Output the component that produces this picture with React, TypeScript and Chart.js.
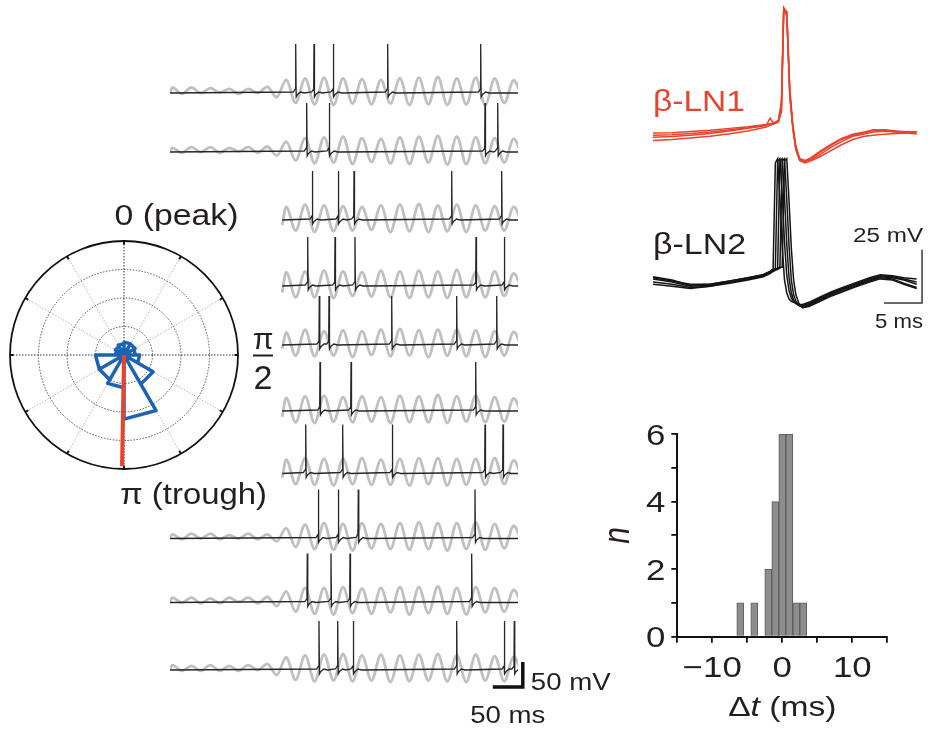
import { useEffect, useRef } from "react";
import { Chart, registerables } from "chart.js";

Chart.register(...registerables);

// ---------------- Spike phase relative to the LFP cycle (0 = peak, π = trough) ----------------
const PHASE_BIN_START_DEG = [0, 30, 60, 90, 120, 150, 180, 210, 240, 270, 300, 330];
const PHASE_BIN_WIDTH_DEG = 30;
const PHASE_BIN_R = [0.45, 0.45, 0.4, 0.55, 1.18, 2.25, 1.15, 1.0, 1.0, 0.3, 0.35, 0.4];
const MEAN_PHASE_DEG = 181;
const MEAN_VECTOR_R = 3.9;
const POLAR_RINGS = [1, 2, 3, 4];
const POLAR_SPOKES_DEG = [0, 30, 60, 90, 120, 150, 180, 210, 240, 270, 300, 330];

// ---------------- Ten trials: β-LN membrane potential (black) over the LFP (grey) ----------------
const TRIAL_START_MS = [0, 0, 187, 187, 187, 187, 187, 0, 0, 0];
const TRIAL_END_MS = 580;
const SPIKE_TIMES_MS = [
  [209.5, 240, 272.2, 362.8, 517.8],
  [227.8, 265.5, 525, 546.2],
  [237.2, 280.5, 306.7, 469.5, 552.8],
  [229.5, 275, 308.3, 510, 557.2],
  [248.8, 265, 369.5, 477.8, 544.5],
  [250, 301.7, 509.5],
  [226.2, 287.8, 370.5, 525, 555],
  [247.2, 280.5, 313.8, 508.3],
  [228.8, 268.3, 300, 502.8],
  [248.3, 279.5, 305.5, 477.8, 557.2, 573.8],
];
// single spike waveform: [ms from spike peak, mV from rest]
const SPIKE_SHAPE = [
  [-4, 2],
  [-0.5, 8],
  [0, 98],
  [0.8, -8],
  [3, -3],
  [8, 2],
  [14, 0],
];
// LFP (arbitrary units) sampled at its successive extrema (half-cycle steps)
const LFP_T0_MS = -11.8;
const LFP_HALF_CYCLE_MS = 15.8;
const LFP_FIRST_SAMPLE = [0, 0, 12, 12, 12, 12, 12, 0, 0, 0];
const LFP = [
  [-2, 5, -4, 5, -3, 4, -2, 3, -4, 3, -3, 6, -9, 16, -17, 18, -19, 19, -20, 18, -18, 17, -19, 16, -18, 18, -20, 19, -19, 20, -20, 18, -19, 19, -20, 18, -17, 15, -13],
  [-2, 3, -4, 4, -3, 4, -4, 3, -2, 4, -4, 5, -8, 12, -15, 17, -19, 18, -18, 19, -20, 17, -17, 16, -19, 18, -20, 19, -18, 20, -21, 19, -20, 18, -19, 17, -18, 16, -14],
  [-10, 16, -18, 19, -20, 18, -19, 17, -18, 16, -17, 18, -20, 19, -19, 20, -20, 18, -19, 19, -20, 18, -18, 17, -18, 16, -14],
  [-12, 17, -19, 18, -19, 19, -20, 18, -17, 17, -18, 19, -19, 18, -20, 19, -19, 18, -20, 20, -19, 17, -19, 18, -17, 15, -12],
  [-8, 15, -18, 19, -19, 17, -18, 18, -20, 17, -17, 19, -19, 20, -18, 18, -20, 19, -18, 19, -19, 18, -20, 17, -18, 16, -13],
  [-11, 16, -19, 18, -20, 19, -18, 17, -19, 18, -18, 17, -20, 19, -19, 18, -19, 20, -20, 18, -18, 19, -19, 17, -18, 15, -13],
  [-9, 17, -18, 19, -19, 18, -20, 18, -18, 19, -19, 17, -19, 18, -20, 19, -18, 19, -20, 18, -19, 18, -19, 19, -18, 16, -14],
  [-2, 3, -4, 4, -3, 4, -4, 2, -3, 4, -4, 3, -7, 12, -15, 17, -18, 19, -19, 18, -20, 19, -17, 18, -18, 19, -19, 20, -18, 19, -20, 19, -18, 20, -19, 18, -17, 15, -13],
  [-2, 4, -3, 4, -4, 3, -4, 4, -2, 4, -4, 5, -8, 13, -16, 18, -19, 18, -20, 19, -18, 17, -19, 18, -17, 19, -20, 19, -18, 20, -19, 18, -20, 19, -17, 18, -16, 15, -12],
  [-2, 4, -4, 3, -4, 4, -4, 3, -4, 4, -3, 6, -10, 15, -17, 18, -19, 19, -18, 20, -19, 18, -18, 19, -20, 18, -19, 19, -18, 20, -19, 18, -20, 19, -18, 17, -19, 16, -14],
];

// ---------------- Overlaid spike waveforms of the two β-LNs ----------------
const LN1_T_MS = [0, 2.5, 4.9, 7.5, 10.1, 12.5, 14.9, 15.4, 15.9, 16.5, 16.9, 17.2, 17.6, 18.0, 18.4, 18.8, 19.3, 20.0, 20.8, 22.0, 23.3, 24.8, 26.3, 27.8, 29.0, 30.5, 32.0, 33.5, 34.7];
const LN1_MV = [
  [-1, -0.8, -0.3, 0.3, 1.2, 2.0, 3.0, 3.4, 3.8, 5.0, 12, 57, 55, 18, 2, -8, -13.5, -14.5, -13.5, -11, -8, -5, -2.5, -1.5, -0.5, -0.2, -0.5, -0.3, -0.5],
  [-3, -2.6, -2.0, -1.2, 0, 1.2, 2.5, 6.0, 3.5, 4.5, 10, 58, 56, 20, 3, -7, -13, -14, -13, -10, -7, -4, -2, -1, 0.2, 0.5, 0, -0.5, -0.5],
  [-4.5, -4, -3.3, -2.5, -1.3, 0, 1.8, 2.6, 3.2, 4.2, 9, 56, 56, 17, 1, -9, -14, -15, -14, -12, -9.5, -6.5, -4, -2.5, -2, -1.5, -1.2, -1, -0.8],
  [-2, -1.8, -1.2, -0.5, 0.5, 1.5, 2.8, 3.2, 3.6, 4.8, 14, 57.5, 54, 16, 1.5, -8.5, -13, -14, -12.5, -9.5, -6.5, -3.5, -1.5, -0.5, 0.5, 0.3, -0.5, -1, -1.5],
];
const LN2_T_MS = [0, 2.5, 4.9, 7.5, 10.1, 12.5, 14.5, 15.4, 15.8, 16.1, 16.4, 16.7, 17.0, 17.3, 17.6, 17.9, 18.2, 18.5, 18.8, 19.2, 19.7, 20.5, 22.0, 23.5, 24.6, 26.5, 28.5, 29.9, 31.5, 33.0, 34.7];
const LN2_MV = [
  [1.5, 0, -2.5, -2, -0.5, 1, 2.5, 4, 5, 55, 57, 38, 16, 0, -6, -9, -10, -10.5, -11, -11.5, -11.5, -10.5, -8, -5.5, -4, -1.5, 1, 2.5, 2, 1, 0.5],
  [-1, -2, -3.5, -3, -1, 0.5, 2, 3.5, 4.5, 5.5, 56, 57, 40, 18, 2, -5, -8.5, -10, -11, -12, -12, -11, -8.5, -6, -4.5, -2, 0.5, 2, 1.5, 0.5, -1],
  [0.5, -1, -3, -2.5, -1, 0.5, 2, 3.5, 4.5, 5, 5.5, 56, 57, 39, 17, 1, -6, -9.5, -11, -12, -12.5, -11.5, -9, -6.5, -5, -2.5, 0, 1.5, 1, 0, -2],
  [-2, -3, -4, -3, -1.5, 0, 1.5, 3, 4, 4.5, 5, 5.5, 56, 57, 38, 16, 0, -7, -10, -12, -13, -12, -9.5, -7, -5.5, -3, -0.5, 1, 0.5, -1.5, -3.5],
  [1, -0.5, -2, -2, -0.5, 1, 2.5, 4, 5, 5, 5.5, 6, 6, 56, 57, 37, 15, 0, -7, -11, -13, -12.5, -10, -7.5, -6, -3.5, -1, 0.5, 0, -2, -4],
];

// ---------------- Spike-time differences between β-LN1 and β-LN2 ----------------
const DT_BIN_MS = [-6, -4, -2, -1, 0, 1, 2, 3];
const DT_COUNT = [1, 1, 2, 4, 6, 6, 1, 1];
const DT_TICK_LABELS = [-10, 0, 10];
const N_TICK_LABELS = [0, 2, 4, 6];

// ---------------- styling / layout ----------------
const RED = "#e8432d";
const BLUE = "#1c63b4";
const INK = "#231f20";
const LFP_GREY = "#c0c0c0";
const FONT = '"Liberation Sans", Arial, Helvetica, sans-serif';
const TEXT_STRETCH = 1.2;

// stacking of the ten trials (mV offsets, 2 mV per pixel) and LFP display gain
const ROW_OFFSET_MV = [0, -118, -254, -386, -504, -636, -761, -891, -1019, -1154];
const LFP_GAIN = 1.4;
const LFP_SHIFT_MV = 4;
const LN1_OFFSET_MV = 70;

type LabelOpts = {
  align?: "left" | "center" | "right";
  color?: string;
  stretch?: number;
  italic?: boolean;
  width?: number;
};

function drawLabel(ctx: CanvasRenderingContext2D, text: string, x: number, y: number, size: number, opts: LabelOpts = {}) {
  const { align = "left", color = INK, stretch = TEXT_STRETCH, italic = false, width } = opts;
  ctx.save();
  ctx.font = `${italic ? "italic " : ""}${size}px ${FONT}`;
  const natural = ctx.measureText(text).width;
  const sx = width ? width / natural : stretch;
  const w = natural * sx;
  const left = align === "left" ? x : align === "center" ? x - w / 2 : x - w;
  ctx.translate(left, y);
  ctx.scale(sx, 1);
  ctx.fillStyle = color;
  ctx.textAlign = "left";
  ctx.textBaseline = "alphabetic";
  ctx.fillText(text, 0, 0);
  ctx.restore();
  return w;
}

function drawRuns(ctx: CanvasRenderingContext2D, runs: [string, boolean][], cx: number, y: number, size: number) {
  const widths = runs.map(([t, it]) => {
    ctx.save();
    ctx.font = `${it ? "italic " : ""}${size}px ${FONT}`;
    const w = ctx.measureText(t).width * TEXT_STRETCH;
    ctx.restore();
    return w;
  });
  let x = cx - widths.reduce((a, b) => a + b, 0) / 2;
  runs.forEach(([t, it], i) => {
    drawLabel(ctx, t, x, y, size, { italic: it });
    x += widths[i];
  });
}

const baseOptions = {
  animation: false as const,
  responsive: false,
  events: [] as any[],
  plugins: { legend: { display: false }, tooltip: { enabled: false } },
};

// ---------------- polar phase plot ----------------
function makePolar(canvas: HTMLCanvasElement) {
  const rad = (d: number) => (d * Math.PI) / 180;
  const rose: { x: number; y: number }[] = [];
  PHASE_BIN_START_DEG.forEach((deg, k) => {
    const r = PHASE_BIN_R[k];
    const a0 = rad(deg);
    const a1 = rad(deg + PHASE_BIN_WIDTH_DEG);
    rose.push({ x: 0, y: 0 }, { x: r * Math.sin(a0), y: r * Math.cos(a0) }, { x: r * Math.sin(a1), y: r * Math.cos(a1) });
  });
  rose.push({ x: 0, y: 0 });
  const mean = [
    { x: 0, y: 0 },
    { x: MEAN_VECTOR_R * Math.sin(rad(MEAN_PHASE_DEG)), y: MEAN_VECTOR_R * Math.cos(rad(MEAN_PHASE_DEG)) },
  ];

  const grid = {
    id: "polarGrid",
    beforeDatasetsDraw(chart: any) {
      const { ctx } = chart;
      const sx = chart.scales.x;
      const sy = chart.scales.y;
      const cx = sx.getPixelForValue(0);
      const cy = sy.getPixelForValue(0);
      const unit = sx.getPixelForValue(1) - cx;
      const R = POLAR_RINGS[POLAR_RINGS.length - 1] * unit;
      ctx.save();
      ctx.lineWidth = 1;
      ctx.setLineDash([1.5, 1.5]);
      for (const deg of POLAR_SPOKES_DEG) {
        if (deg % 90 === 0) continue;
        const a = rad(deg);
        ctx.strokeStyle = "#b4b4b4";
        ctx.beginPath();
        ctx.moveTo(cx, cy);
        ctx.lineTo(cx + R * Math.sin(a), cy - R * Math.cos(a));
        ctx.stroke();
      }
      ctx.strokeStyle = "#4a4a4a";
      for (const ring of POLAR_RINGS.slice(0, -1)) {
        ctx.beginPath();
        ctx.arc(cx, cy, ring * unit, 0, Math.PI * 2);
        ctx.stroke();
      }
      ctx.strokeStyle = "#2e2e2e";
      ctx.beginPath();
      ctx.moveTo(cx - R, cy);
      ctx.lineTo(cx + R, cy);
      ctx.moveTo(cx, cy - R);
      ctx.lineTo(cx, cy + R);
      ctx.stroke();
      ctx.setLineDash([]);
      ctx.strokeStyle = "#111";
      ctx.lineWidth = 1.8;
      ctx.beginPath();
      ctx.arc(cx, cy, R, 0, Math.PI * 2);
      ctx.stroke();
      ctx.lineWidth = 2;
      for (const deg of POLAR_SPOKES_DEG) {
        const a = rad(deg);
        ctx.beginPath();
        ctx.moveTo(cx + R * Math.sin(a), cy - R * Math.cos(a));
        ctx.lineTo(cx + (R - 3.5) * Math.sin(a), cy - (R - 3.5) * Math.cos(a));
        ctx.stroke();
      }
      ctx.restore();
    },
    afterDraw(chart: any) {
      const { ctx } = chart;
      const cx = chart.scales.x.getPixelForValue(0);
      const cy = chart.scales.y.getPixelForValue(0);
      const R = chart.scales.x.getPixelForValue(POLAR_RINGS[POLAR_RINGS.length - 1]) - cx;
      drawLabel(ctx, "0 (peak)", cx - 9.5, cy - R - 16, 29, { width: 124 });
      drawLabel(ctx, "π (trough)", cx - 4, cy + R + 35, 29, { width: 147 });
      const fx = cx + R + 25;
      drawLabel(ctx, "π", fx, cy - 6, 30, { align: "center", stretch: 1 });
      ctx.save();
      ctx.fillStyle = INK;
      ctx.fillRect(fx - 10, cy - 0.5, 20, 2);
      ctx.restore();
      drawLabel(ctx, "2", fx, cy + 34, 34, { align: "center", stretch: 1 });
    },
  };

  const half = 4.3;
  return new Chart(canvas, {
    type: "scatter",
    data: {
      datasets: [
        { data: mean, showLine: true, borderColor: RED, borderWidth: 4, pointRadius: 0, order: 0, borderCapStyle: "butt" },
        { data: rose, showLine: true, borderColor: BLUE, borderWidth: 3.5, pointRadius: 0, order: 1, borderJoinStyle: "round" },
      ],
    } as any,
    options: {
      ...baseOptions,
      layout: { padding: { left: 1.45, right: 53.45, top: 42.45, bottom: 42.45 } },
      scales: {
        x: { type: "linear", display: false, min: -half, max: half },
        y: { type: "linear", display: false, min: -half, max: half },
      },
    } as any,
    plugins: [grid],
  });
}

// ---------------- trial traces ----------------
function makeTraces(canvas: HTMLCanvasElement) {
  const black = SPIKE_TIMES_MS.map((spikes, r) => {
    const off = ROW_OFFSET_MV[r];
    const pts = [{ x: TRIAL_START_MS[r], y: off }];
    spikes.forEach((s, k) => {
      const next = k + 1 < spikes.length ? spikes[k + 1] + SPIKE_SHAPE[0][0] : Infinity;
      for (const [dt, v] of SPIKE_SHAPE) {
        const t = s + dt;
        if (t <= pts[pts.length - 1].x || t >= next) continue;
        pts.push({ x: t, y: off + v });
      }
    });
    if (pts[pts.length - 1].x < TRIAL_END_MS) pts.push({ x: TRIAL_END_MS, y: off });
    return pts;
  });
  const grey = LFP.map((vals, r) =>
    vals.map((v, j) => {
      const t = LFP_T0_MS + LFP_HALF_CYCLE_MS * (LFP_FIRST_SAMPLE[r] + j);
      return { x: j === 0 ? Math.max(t, TRIAL_START_MS[r]) : t, y: ROW_OFFSET_MV[r] + LFP_SHIFT_MV + v * LFP_GAIN };
    })
  );

  const scaleBar = {
    id: "traceScaleBar",
    afterDraw(chart: any) {
      const { ctx } = chart;
      const sx = chart.scales.x;
      const sy = chart.scales.y;
      const endMs = 588;
      const baseMv = -1188;
      const x0 = sx.getPixelForValue(endMs - 50);
      const x1 = sx.getPixelForValue(endMs);
      const y0 = sy.getPixelForValue(baseMv);
      const y1 = sy.getPixelForValue(baseMv + 50);
      ctx.save();
      ctx.strokeStyle = "#111";
      ctx.lineWidth = 3.5;
      ctx.lineJoin = "miter";
      ctx.lineCap = "butt";
      ctx.beginPath();
      ctx.moveTo(x0, y0);
      ctx.lineTo(x1, y0);
      ctx.lineTo(x1, y1);
      ctx.stroke();
      ctx.restore();
      drawLabel(ctx, "50 mV", x1 + 8, y0 + 3, 23);
      drawLabel(ctx, "50 ms", (x0 + x1) / 2, y0 + 36, 23, { align: "center" });
    },
  };

  const datasets = [
    ...black.map((d) => ({ data: d, showLine: true, borderColor: "#262626", borderWidth: 1.3, pointRadius: 0, order: 0 })),
    ...grey.map((d) => ({
      data: d,
      showLine: true,
      borderColor: LFP_GREY,
      borderWidth: 2.8,
      pointRadius: 0,
      order: 1,
      cubicInterpolationMode: "monotone",
    })),
  ];

  return new Chart(canvas, {
    type: "scatter",
    data: { datasets } as any,
    options: {
      ...baseOptions,
      layout: { padding: { left: 10, right: 102, top: 0, bottom: 32 } },
      scales: {
        x: { type: "linear", display: false, min: 0, max: TRIAL_END_MS },
        y: { type: "linear", display: false, min: -1214, max: 146 },
      },
    } as any,
    plugins: [scaleBar],
  });
}

// ---------------- spike waveforms ----------------
function makeWaves(canvas: HTMLCanvasElement) {
  const ln1 = LN1_MV.map((vals) => vals.map((v, i) => ({ x: LN1_T_MS[i], y: v + LN1_OFFSET_MV })));
  const ln2 = LN2_MV.map((vals) => vals.map((v, i) => ({ x: LN2_T_MS[i], y: v })));

  const deco = {
    id: "waveDeco",
    afterDraw(chart: any) {
      const { ctx } = chart;
      const sx = chart.scales.x;
      const sy = chart.scales.y;
      const xb = sx.getPixelForValue(35.4);
      const xa = sx.getPixelForValue(30.4);
      const yb = sy.getPixelForValue(-10.8);
      const ya = sy.getPixelForValue(14.2);
      ctx.save();
      ctx.strokeStyle = "#3a3a3a";
      ctx.lineWidth = 1.5;
      ctx.beginPath();
      ctx.moveTo(xa, yb);
      ctx.lineTo(xb, yb);
      ctx.lineTo(xb, ya);
      ctx.stroke();
      ctx.restore();
      const right = xb + 1;
      drawLabel(ctx, "25 mV", right, ya - 8, 20, { align: "right", width: 70 });
      drawLabel(ctx, "5 ms", right, yb + 25, 21, { align: "right", width: 48 });
      const left = chart.chartArea.left;
      drawLabel(ctx, "β-LN1", left, sy.getPixelForValue(LN1_OFFSET_MV + 9.5), 30, { color: RED, width: 92 });
      drawLabel(ctx, "β-LN2", left, sy.getPixelForValue(12), 30, { width: 93 });
    },
  };

  return new Chart(canvas, {
    type: "scatter",
    data: {
      datasets: [
        ...ln2.map((d) => ({ data: d, showLine: true, borderColor: "#141414", borderWidth: 1.5, pointRadius: 0 })),
        ...ln1.map((d) => ({ data: d, showLine: true, borderColor: RED, borderWidth: 1.5, pointRadius: 0 })),
      ],
    } as any,
    options: {
      ...baseOptions,
      layout: { padding: { left: 13, right: 12, top: 0, bottom: 0 } },
      scales: {
        x: { type: "linear", display: false, min: 0, max: 35 },
        y: { type: "linear", display: false, min: -28.2, max: 131.5 },
      },
    } as any,
    plugins: [deco],
  });
}

// ---------------- Δt histogram ----------------
function makeHist(canvas: HTMLCanvasElement) {
  const labels = {
    id: "histLabels",
    afterDraw(chart: any) {
      const { ctx, chartArea } = chart;
      const sx = chart.scales.x;
      const sy = chart.scales.y;
      for (const v of N_TICK_LABELS) {
        drawLabel(ctx, String(v), chartArea.left - 12, sy.getPixelForValue(v) + 10.5, 29, { align: "right" });
      }
      for (const v of DT_TICK_LABELS) {
        const txt = v < 0 ? "\u2212" + Math.abs(v) : String(v);
        drawLabel(ctx, txt, sx.getPixelForValue(v), chartArea.bottom + 40, 29, { align: "center" });
      }
      drawRuns(ctx, [["Δ", false], ["t", true], [" (ms)", false]], sx.getPixelForValue(0), chartArea.bottom + 79, 28);
      ctx.save();
      ctx.translate(chartArea.left - 58, sy.getPixelForValue(3));
      ctx.scale(TEXT_STRETCH, 1);
      ctx.rotate(-Math.PI / 2);
      ctx.font = `italic 30px ${FONT}`;
      ctx.fillStyle = INK;
      ctx.textAlign = "center";
      ctx.textBaseline = "middle";
      ctx.fillText("n", 0, 0);
      ctx.restore();
    },
  };

  const axisGrid = {
    display: true,
    drawOnChartArea: false,
    drawTicks: true,
    tickLength: 6,
    color: "#111",
    lineWidth: 1.8,
    offset: false,
  };

  return new Chart(canvas, {
    type: "bar",
    data: {
      datasets: [
        {
          data: DT_BIN_MS.map((x, i) => ({ x, y: DT_COUNT[i] })),
          backgroundColor: "#8d8d8d",
          borderColor: "#5c5c5c",
          borderWidth: 1,
          barPercentage: 1,
          categoryPercentage: 1,
        },
      ],
    } as any,
    options: {
      ...baseOptions,
      layout: { padding: { left: 0, right: 43.7, top: 24, bottom: 0 } },
      scales: {
        x: {
          type: "linear",
          min: -15,
          max: 15,
          offset: false,
          ticks: { display: false, stepSize: 5 },
          grid: axisGrid,
          border: { display: true, color: "#111", width: 2 },
          afterFit: (s: any) => {
            s.height = 95.3;
          },
        },
        y: {
          type: "linear",
          min: 0,
          max: 6,
          ticks: { display: false, stepSize: 1 },
          grid: axisGrid,
          border: { display: true, color: "#111", width: 2 },
          afterFit: (s: any) => {
            s.width = 87.3;
          },
        },
      },
    } as any,
    plugins: [labels],
  });
}

export default function App() {
  const polarRef = useRef<HTMLCanvasElement>(null);
  const traceRef = useRef<HTMLCanvasElement>(null);
  const waveRef = useRef<HTMLCanvasElement>(null);
  const histRef = useRef<HTMLCanvasElement>(null);

  useEffect(() => {
    const charts = [
      makeTraces(traceRef.current!),
      makePolar(polarRef.current!),
      makeWaves(waveRef.current!),
      makeHist(histRef.current!),
    ];
    return () => charts.forEach((c) => c.destroy());
  }, []);

  const abs = (left: number, top: number) => ({ position: "absolute" as const, left, top });

  return (
    <div style={{ position: "absolute", left: 0, top: 0, width: 931, height: 732, background: "#fff", overflow: "hidden" }}>
      <canvas ref={traceRef} width={460} height={712} style={abs(160, 20)} />
      <canvas ref={polarRef} width={300} height={330} style={abs(0, 190)} />
      <canvas ref={waveRef} width={291} height={340} style={abs(640, 0)} />
      <canvas ref={histRef} width={341} height={322} style={abs(590, 410)} />
    </div>
  );
}
